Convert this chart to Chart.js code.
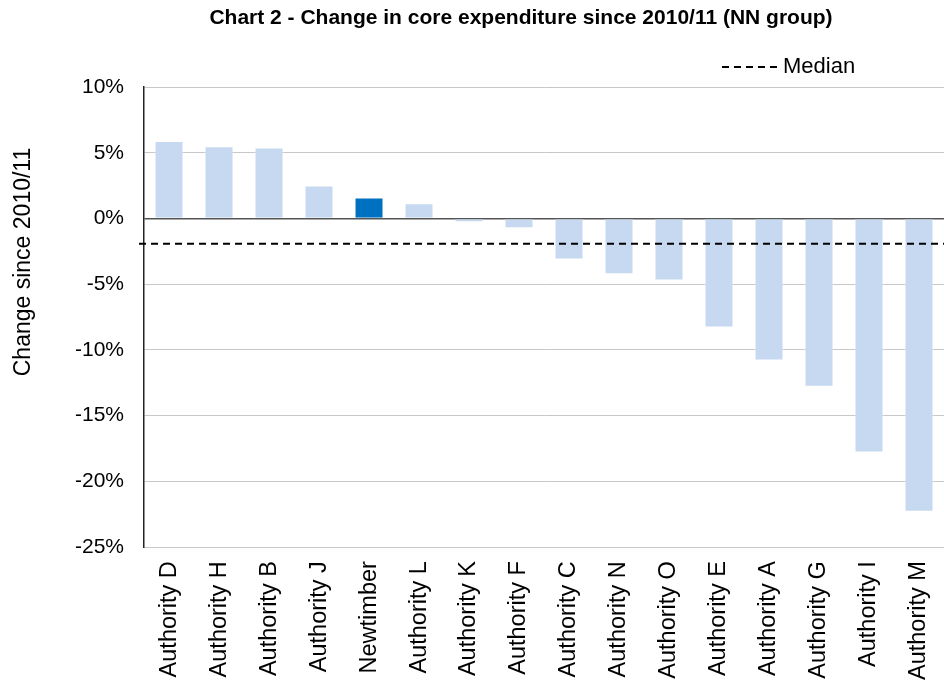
<!DOCTYPE html>
<html>
<head>
<meta charset="utf-8">
<script src="https://cdn.jsdelivr.net/npm/chart.js@4"></script>
<style>
  html, body { margin: 0; padding: 0; background: #fff; }
  #wrap { width: 944px; height: 688px; }
</style>
</head>
<body>
<div id="wrap"><canvas id="myChart" width="944" height="688"></canvas></div>
<script>
// data
var authorities = ['Authority D', 'Authority H', 'Authority B', 'Authority J', 'Newtimber', 'Authority L',
    'Authority K', 'Authority F', 'Authority C', 'Authority N', 'Authority O', 'Authority E',
    'Authority A', 'Authority G', 'Authority I', 'Authority M'];
var changes = [5.9, 5.5, 5.4, 2.5, 1.6, 1.15, -0.28, -0.74, -3.12, -4.24, -4.71, -8.3, -10.8, -12.8, -17.8, -22.3];
var medianValue = -1.93;
var yTicks = [10, 5, 0, -5, -10, -15, -20, -25];

var FONT = "'Liberation Sans', Arial, sans-serif";

var barColors = authorities.map(function (name) {
    return name === 'Newtimber' ? '#0070c0' : '#c6d9f0';
});

// median dashed line + legend + titles
var extras = {
    id: 'extras',
    afterDatasetsDraw: function (chart) {
        var ctx = chart.ctx;
        var area = chart.chartArea;
        var y = chart.scales.y.getPixelForValue(medianValue);
        ctx.save();
        ctx.strokeStyle = '#000';
        ctx.lineWidth = 2;
        ctx.setLineDash([7, 5]);
        ctx.beginPath();
        ctx.moveTo(area.left - 5, y);
        ctx.lineTo(area.right, y);
        ctx.stroke();
        ctx.restore();
    },
    afterDraw: function (chart) {
        var ctx = chart.ctx;
        ctx.save();
        ctx.fillStyle = '#000';
        ctx.font = 'bold 21px ' + FONT;
        ctx.textAlign = 'center';
        ctx.textBaseline = 'middle';
        ctx.fillText('Chart 2 - Change in core expenditure since 2010/11 (NN group)', 521, 18);

        // legend
        ctx.strokeStyle = '#000';
        ctx.lineWidth = 2;
        ctx.setLineDash([7, 5]);
        ctx.beginPath();
        ctx.moveTo(722, 67);
        ctx.lineTo(778, 67);
        ctx.stroke();
        ctx.setLineDash([]);
        ctx.font = '22px ' + FONT;
        ctx.textAlign = 'left';
        ctx.fillText('Median', 783, 67);

        // y axis title (sits higher than the plot centre in the original)
        ctx.translate(24, 262);
        ctx.rotate(-Math.PI / 2);
        ctx.textAlign = 'center';
        ctx.font = '23px ' + FONT;
        ctx.fillText('Change since 2010/11', 0, 0);
        ctx.restore();
    }
};

var ctx = document.getElementById('myChart').getContext('2d');
var myChart = new Chart(ctx, {
    type: 'bar',
    data: {
        labels: authorities,
        datasets: [{
            label: 'Change',
            data: changes,
            backgroundColor: barColors,
            borderColor: 'rgba(255,255,255,0.5)',
            borderWidth: 1,
            barPercentage: 0.58,
            categoryPercentage: 1
        }]
    },
    options: {
        responsive: false,
        animation: false,
        layout: { padding: { top: 87, right: 0, left: 55, bottom: 2 } },
        plugins: {
            legend: { display: false },
            title: { display: false },
            tooltip: { enabled: false }
        },
        scales: {
            x: {
                grid: { display: false },
                border: { color: '#c8c8c8' },
                afterFit: function (axis) {
                    // let the plot run to the right edge like the original
                    axis.paddingRight = 0;
                },
                ticks: {
                    color: '#000',
                    font: { family: FONT, size: 23.5 },
                    minRotation: 90,
                    maxRotation: 90,
                    autoSkip: false,
                    padding: 6
                }
            },
            y: {
                min: -25,
                max: 10,
                afterBuildTicks: function (axis) {
                    axis.ticks = yTicks.map(function (v) { return { value: v }; });
                },
                border: { color: '#222', width: 1.5 },
                grid: {
                    drawTicks: false,
                    color: function (c) { return c.tick && c.tick.value === 0 ? '#555' : '#c8c8c8'; },
                    lineWidth: function (c) { return c.tick && c.tick.value === 0 ? 1.5 : 1; }
                },
                ticks: {
                    color: '#000',
                    font: { family: FONT, size: 21 },
                    padding: 20,
                    callback: function (v) { return v + '%'; }
                }
            }
        }
    },
    plugins: [extras]
});
</script>
</body>
</html>
